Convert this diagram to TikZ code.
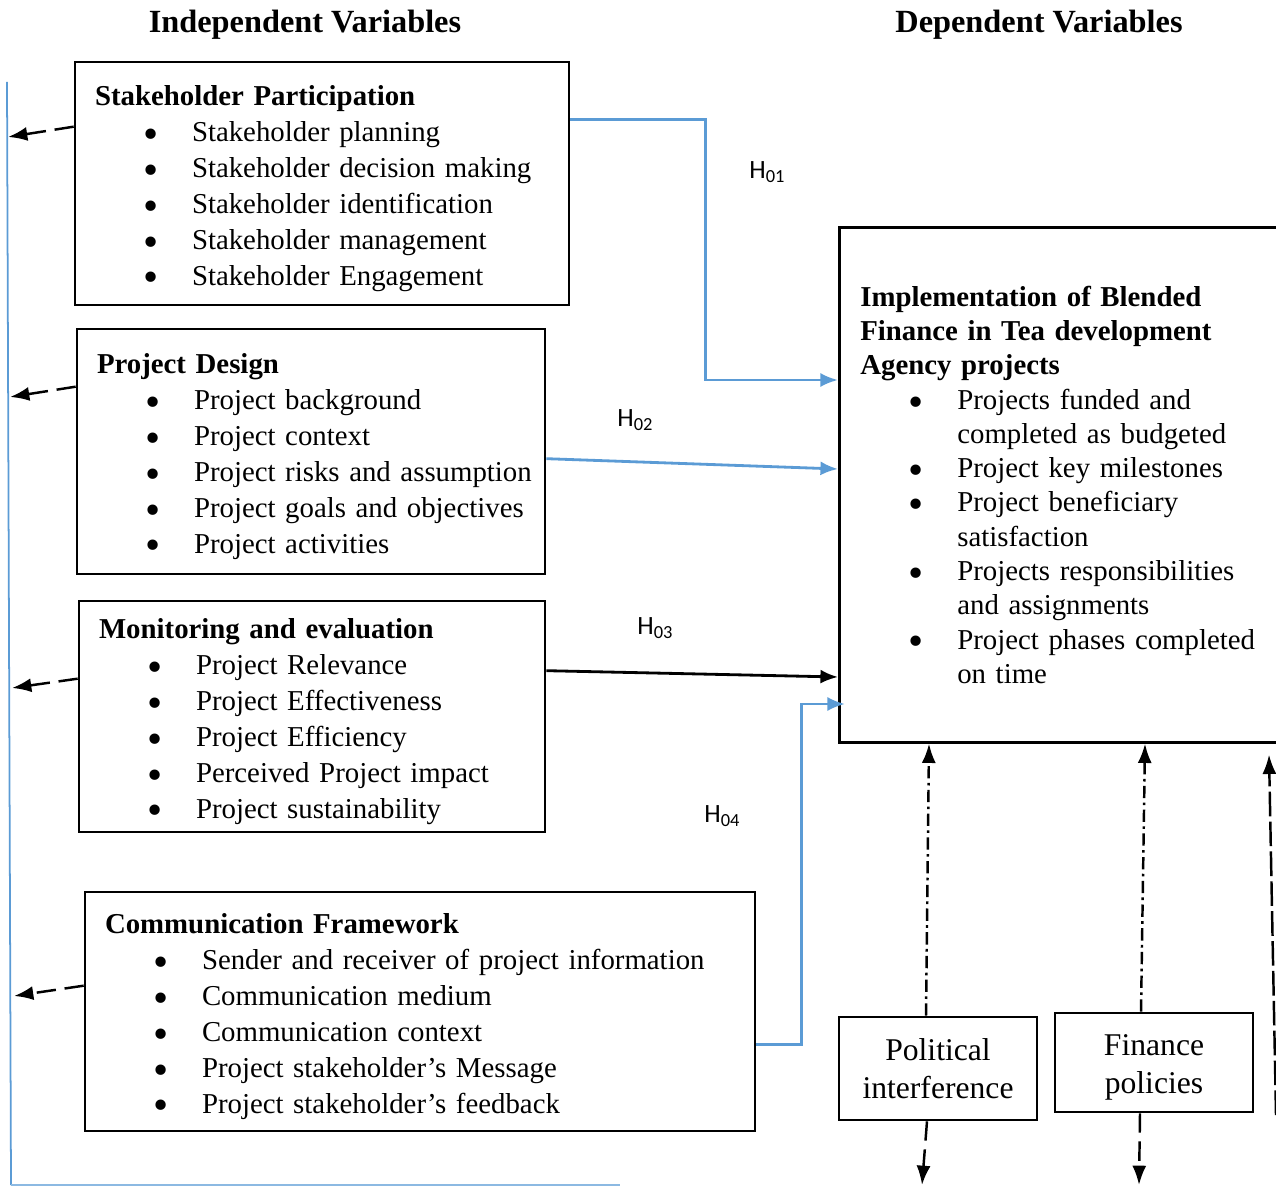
\documentclass[tikz,border=0pt]{standalone}
\usepackage{fontspec}
\setmainfont{Liberation Serif}
\newfontfamily\hfont{Carlito}
\usetikzlibrary{arrows.meta,calc}
\definecolor{linkblue}{RGB}{91,155,213}
% bullet line and continuation line inside the boxes
\newcommand{\itm}[1]{\hspace*{0.96cm}\makebox[0.98cm][l]{\smash{\raisebox{-0.24em}{\scalebox{1.5}{\textbullet}}}}\mbox{#1}}
\newcommand{\cnt}[1]{\hspace*{1.94cm}\mbox{#1}}
\newcommand{\hyp}[1]{{\hfont\fontsize{15}{15}\selectfont H\raisebox{-0.3ex}{\fontsize{10.5}{10.5}\selectfont #1}}}
\newcommand{\up}{\rule{0pt}{0.6cm}}
\tikzset{
  varbox/.style={draw, line width=1.5pt, align=left, inner xsep=0.4cm, inner ysep=0pt,
    font=\fontsize{16.4}{20.4}\selectfont},
  ctrlbox/.style={draw, line width=1.5pt, align=center, minimum width=3.96cm,
    font=\fontsize{18}{21.5}\selectfont},
  hlink/.style={draw=linkblue, line width=1.6pt, -{Latex[length=10pt,width=8pt]}},
  backarrow/.style={line width=1.4pt, dash pattern=on 11pt off 5pt, -{Latex[length=11pt,width=8pt]}},
  dashdotarrow/.style={line width=1.4pt, dash pattern=on 7pt off 2.5pt on 1.5pt off 2.5pt, -{Latex[length=11pt,width=8pt]}},
  longdash/.style={line width=1.4pt, dash pattern=on 14pt off 3pt, -{Latex[length=11pt,width=8pt]}}
}
\begin{document}
\begin{tikzpicture}
\useasboundingbox (0,0) rectangle (25.52,-23.74);

\node[font=\fontsize{18.4}{22}\selectfont\bfseries] (indep) at (6.1,-0.5) {Independent Variables};
\node[font=\fontsize{18.4}{22}\selectfont\bfseries] (dep) at (20.78,-0.5) {Dependent Variables};

% independent variables
\node[varbox, text width=9.08cm, minimum height=4.86cm] (sp) at (6.44,-3.67) {\up\textbf{Stakeholder Participation}\\
\itm{Stakeholder planning}\\
\itm{Stakeholder decision making}\\
\itm{Stakeholder identification}\\
\itm{Stakeholder management}\\
\itm{Stakeholder Engagement}};
\node[varbox, text width=8.56cm, minimum height=4.9cm] (pd) at (6.22,-9.03) {\up\textbf{Project Design}\\
\itm{Project background}\\
\itm{Project context}\\
\itm{Project risks and assumption}\\
\itm{Project goals and objectives}\\
\itm{Project activities}};
\node[varbox, text width=8.52cm, minimum height=4.62cm] (me) at (6.24,-14.33) {\up\textbf{Monitoring and evaluation}\\
\itm{Project Relevance}\\
\itm{Project Effectiveness}\\
\itm{Project Efficiency}\\
\itm{Perceived Project impact}\\
\itm{Project sustainability}};
\node[varbox, text width=12.6cm, minimum height=4.78cm] (cf) at (8.4,-20.23) {\up\textbf{Communication Framework}\\
\itm{Sender and receiver of project information}\\
\itm{Communication medium}\\
\itm{Communication context}\\
\itm{Project stakeholder's Message}\\
\itm{Project stakeholder's feedback}};

% dependent variable
\node[varbox, anchor=north west, text width=8.5cm, inner xsep=0.42cm, minimum height=10.3cm,
  font=\fontsize{16.4}{19.5}\selectfont] (impl) at (16.76,-4.52) {\textbf{Implementation of Blended}\\
\textbf{Finance in Tea development}\\
\textbf{Agency projects}\\
\itm{Projects funded and}\\
\cnt{completed as budgeted}\\
\itm{Project key milestones}\\
\itm{Project beneficiary}\\
\cnt{satisfaction}\\
\itm{Projects responsibilities}\\
\cnt{and assignments}\\
\itm{Project phases completed}\\
\cnt{on time}};

% intervening variables
\node[ctrlbox, minimum height=2.06cm] (pol) at (18.76,-21.37) {Political\\interference};
\node[ctrlbox, minimum height=1.98cm] (fin) at (23.08,-21.25) {\up Finance\\policies};

% hypotheses
\draw[hlink] ([yshift=-1.18cm]sp.north east) -- ++(2.7,0) |- ([yshift=-3.08cm]impl.north west);
\draw[hlink] ([yshift=-2.62cm]pd.north east) -- ([yshift=-4.86cm]impl.north west);
\draw[line width=1.6pt, -{Latex[length=10pt,width=8pt]}] ([yshift=-1.42cm]me.north east) -- ([yshift=-9.02cm]impl.north west);
\draw[hlink] ([yshift=-3.08cm]cf.north east) -- ++(0.9,0) |- ([xshift=0.14cm,yshift=-9.56cm]impl.north west);
\node (h1) at (15.34,-3.44) {\hyp{01}};
\node (h2) at (12.7,-8.4) {\hyp{02}};
\node (h3) at (13.1,-12.56) {\hyp{03}};
\node (h4) at (14.44,-16.32) {\hyp{04}};

% feedback line on the left
\coordinate (ltop) at (0.14,-1.64);
\coordinate (lbot) at (0.22,-23.7);
\coordinate (rbot) at (12.4,-23.7);
\draw[linkblue, line width=1pt] (ltop) -- (lbot);
\draw[linkblue!70, line width=1pt] (lbot) -- (rbot);
\coordinate (ln1) at (0.16,-2.74);
\coordinate (ln2) at (0.2,-7.94);
\coordinate (ln3) at (0.24,-13.76);
\coordinate (ln4) at (0.28,-19.92);
\draw[backarrow] ([yshift=-1.32cm]sp.north west) -- (ln1);
\draw[backarrow] ([yshift=-1.18cm]pd.north west) -- (ln2);
\draw[backarrow] ([yshift=-1.58cm]me.north west) -- (ln3);
\draw[backarrow] ([yshift=-1.9cm]cf.north west) -- (ln4);

% intervening arrows
\draw[dashdotarrow] ([xshift=-0.24cm]pol.north) -- ([xshift=1.82cm]impl.south west);
\draw[dashdotarrow] ([xshift=-0.26cm]fin.north) -- ([xshift=6.14cm]impl.south west);
\coordinate (rs) at (25.52,-22.3);
\draw[longdash] (rs) -- ([xshift=8.62cm,yshift=-0.22cm]impl.south west);
\coordinate (pd1) at (18.44,-23.7);
\coordinate (fd1) at (22.78,-23.7);
\draw[backarrow] ([xshift=-0.22cm]pol.south) -- (pd1);
\draw[backarrow] ([xshift=-0.28cm]fin.south) -- (fd1);
\end{tikzpicture}
\end{document}
